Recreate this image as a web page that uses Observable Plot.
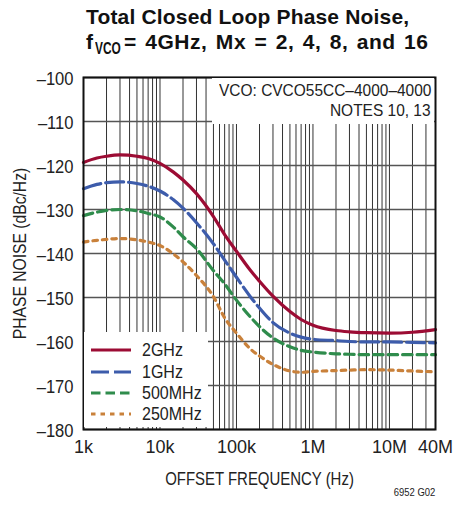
<!DOCTYPE html>
<html>
<head>
<meta charset="utf-8">
<script src="https://cdn.jsdelivr.net/npm/d3@7"></script>
<script src="https://cdn.jsdelivr.net/npm/@observablehq/plot@0.6"></script>
<style>
  html, body { margin: 0; padding: 0; background: #fff; }
  #wrap { position: relative; width: 454px; height: 518px; overflow: hidden; font-family: "Liberation Sans", Arial, sans-serif; color: #222; }
  #chart { position: absolute; left: 0; top: 60px; }
  .t { position: absolute; font-weight: bold; font-size: 21px; line-height: 21px; white-space: nowrap; color: #111; }
  .sub { font-size: 17px; line-height: 17px; transform: scaleX(0.7); transform-origin: left center; }
  #anno { position: absolute; left: 212px; top: 78px; width: 222px; height: 46px; background: #fff; }
  #anno div { position: absolute; right: 3px; font-size: 17px; line-height: 20px; white-space: nowrap; transform: scaleX(0.91); transform-origin: right center; }
  #legend { position: absolute; left: 84px; top: 332px; width: 124px; height: 95px; background: #fff; }
  .row { position: absolute; left: 0; width: 124px; height: 21px; line-height: 21px; font-size: 18px; white-space: nowrap; }
  .row svg { position: absolute; left: 7px; top: 6px; }
  .row span { position: absolute; left: 58px; top: 0; transform: scaleX(0.89); transform-origin: left center; }
  #code { position: absolute; right: 19px; top: 486px; font-size: 11px; line-height: 12px; white-space: nowrap; transform: scaleX(0.86); transform-origin: right center; }
</style>
</head>
<body>
<div id="wrap">
  <div class="t" style="left:86px;top:5.5px;letter-spacing:0.17px">Total Closed Loop Phase Noise,</div>
  <div class="t" style="left:86px;top:31.2px">f</div>
  <div class="t sub" style="left:95px;top:40.1px">VCO</div>
  <div class="t" style="left:124px;top:31.2px;letter-spacing:0.55px;word-spacing:2px">= 4GHz, Mx = 2, 4, 8, and 16</div>
  <div id="chart"></div>
  <div id="anno">
    <div style="top:3px">VCO: CVCO55CC–4000–4000</div>
    <div style="top:23px">NOTES 10, 13</div>
  </div>
  <div id="legend"></div>
  <div id="code">6952 G02</div>
</div>
<script>
// ---- data ----
const freqs = [1e3, 1.5e3, 2e3, 3e3, 5e3, 7e3, 1e4, 1.5e4, 2e4, 3e4, 5e4, 7e4, 1e5, 1.5e5, 2e5, 3e5, 5e5, 7e5, 1e6, 2e6, 3e6, 5e6, 1e7, 2e7, 4e7];
const pn2GHz   = [-119.3, -118.3, -117.9, -117.6, -117.9, -118.4, -119.5, -121.5, -123.3, -126.4, -131.6, -135.7, -139.5, -143.7, -146.3, -149.7, -153.2, -155.0, -156.3, -157.5, -157.8, -158.0, -158.1, -157.9, -157.3];
const pn1GHz   = [-125.3, -124.3, -123.9, -123.7, -124.1, -124.7, -125.8, -127.8, -129.7, -133.0, -137.8, -141.5, -145.4, -149.7, -152.4, -155.7, -158.1, -159.0, -159.5, -159.8, -160.0, -160.1, -160.1, -160.2, -160.3];
const pn500MHz = [-131.4, -130.6, -130.2, -130.0, -130.3, -130.9, -131.7, -134.0, -136.2, -138.9, -143.9, -146.9, -150.6, -154.3, -156.6, -159.2, -161.2, -162.0, -162.4, -162.8, -162.9, -163.0, -163.0, -163.0, -163.0];
const pn250MHz = [-137.4, -137.0, -136.8, -136.6, -136.9, -137.4, -138.2, -140.1, -141.9, -145.0, -149.8, -154.6, -158.1, -161.6, -163.3, -165.2, -166.7, -167.0, -166.8, -166.6, -166.5, -166.4, -166.5, -166.7, -166.9];
const seriesNames = ["2GHz", "1GHz", "500MHz", "250MHz"];
const xTickValues = [1e3, 1e4, 1e5, 1e6, 1e7, 4e7];
const xTickLabels = ["1k", "10k", "100k", "1M", "10M", "40M"];
const yTickValues = [-100, -110, -120, -130, -140, -150, -160, -170, -180];
const yTickLabels = ["–100", "–110", "–120", "–130", "–140", "–150", "–160", "–170", "–180"];

// ---- styles ----
const colors = ["#9c0c34", "#3d5cab", "#2f8c4c", "#c9813b"];
const dashes = [null, "18,5", "9.5,5", "4.5,5"];
const seriesValues = [pn2GHz, pn1GHz, pn500MHz, pn250MHz];

const minorTicks = [];
for (let e = 3; e <= 7; e++) for (let m = 1; m <= 9; m++) { const v = m * 10 ** e; if (v < 4e7) minorTicks.push(v); }

const yLab = new Map(yTickValues.map((v, i) => [v, yTickLabels[i]]));

const lineMarks = seriesValues.map((vals, k) => Plot.line(
  freqs.map((f, i) => ({f, pn: vals[i]})),
  {x: "f", y: "pn", stroke: colors[k], strokeWidth: 3.2, strokeDasharray: dashes[k], curve: "monotone-x"}
));

const xTickRows = xTickValues.map((v, i) => ({v, label: xTickLabels[i]}));

const chart = Plot.plot({
  width: 454,
  height: 458,
  marginTop: 17,
  marginBottom: 89,
  marginLeft: 83,
  marginRight: 19,
  style: {fontFamily: "'Liberation Sans', Arial, sans-serif", fontSize: "18px", color: "#222", background: "transparent"},
  x: {type: "log", domain: [1e3, 4e7]},
  y: {domain: [-180, -100]},
  marks: [
    Plot.ruleX(minorTicks, {stroke: "#333", strokeWidth: 1}),
    Plot.ruleY(yTickValues, {stroke: "#555", strokeWidth: 1.4}),
    ...lineMarks,
    Plot.frame({stroke: "#111", strokeWidth: 2}),
    Plot.text(xTickRows, {x: "v", text: "label", frameAnchor: "bottom", lineAnchor: "top", dy: 11,
      fill: "#222", fontSize: 18, ariaLabel: "x-ticklabels"}),
    Plot.axisX({ticks: [], tickSize: 0,
      label: "OFFSET FREQUENCY (Hz)", labelAnchor: "center", labelArrow: "none", labelOffset: 55}),
    Plot.axisY({ticks: yTickValues, tickFormat: d => yLab.get(d), tickSize: 0, tickPadding: 10, dy: 2,
      label: "PHASE NOISE (dBc/Hz)", labelAnchor: "center", labelArrow: "none", labelOffset: 70})
  ]
});
document.getElementById("chart").appendChild(chart);

// condensed look: squeeze SVG texts horizontally around their anchors
function squeeze(sel, k) {
  chart.querySelectorAll(sel).forEach(t => {
    const L = t.getComputedTextLength();
    if (L > 0) { t.setAttribute("textLength", (L * k).toFixed(2)); t.setAttribute("lengthAdjust", "spacingAndGlyphs"); }
  });
}
squeeze('g[aria-label="x-ticklabels"] text', 0.9);
squeeze('g[aria-label="y-axis tick label"] text', 0.92);
squeeze('g[aria-label="x-axis label"] text', 0.83);
squeeze('g[aria-label="y-axis label"] text', 0.87);

// ---- legend ----
const legend = document.getElementById("legend");
const rowTops = [8, 29.5, 51, 72];
seriesNames.forEach((name, k) => {
  const row = document.createElement("div");
  row.className = "row";
  row.style.top = rowTops[k] + "px";
  const dash = dashes[k] ? ` stroke-dasharray="${dashes[k]}"` : "";
  row.innerHTML = `<svg width="42" height="8"><line x1="0" y1="4" x2="40" y2="4" stroke="${colors[k]}" stroke-width="3.2"${dash}/></svg><span>${name}</span>`;
  legend.appendChild(row);
});
</script>
</body>
</html>
